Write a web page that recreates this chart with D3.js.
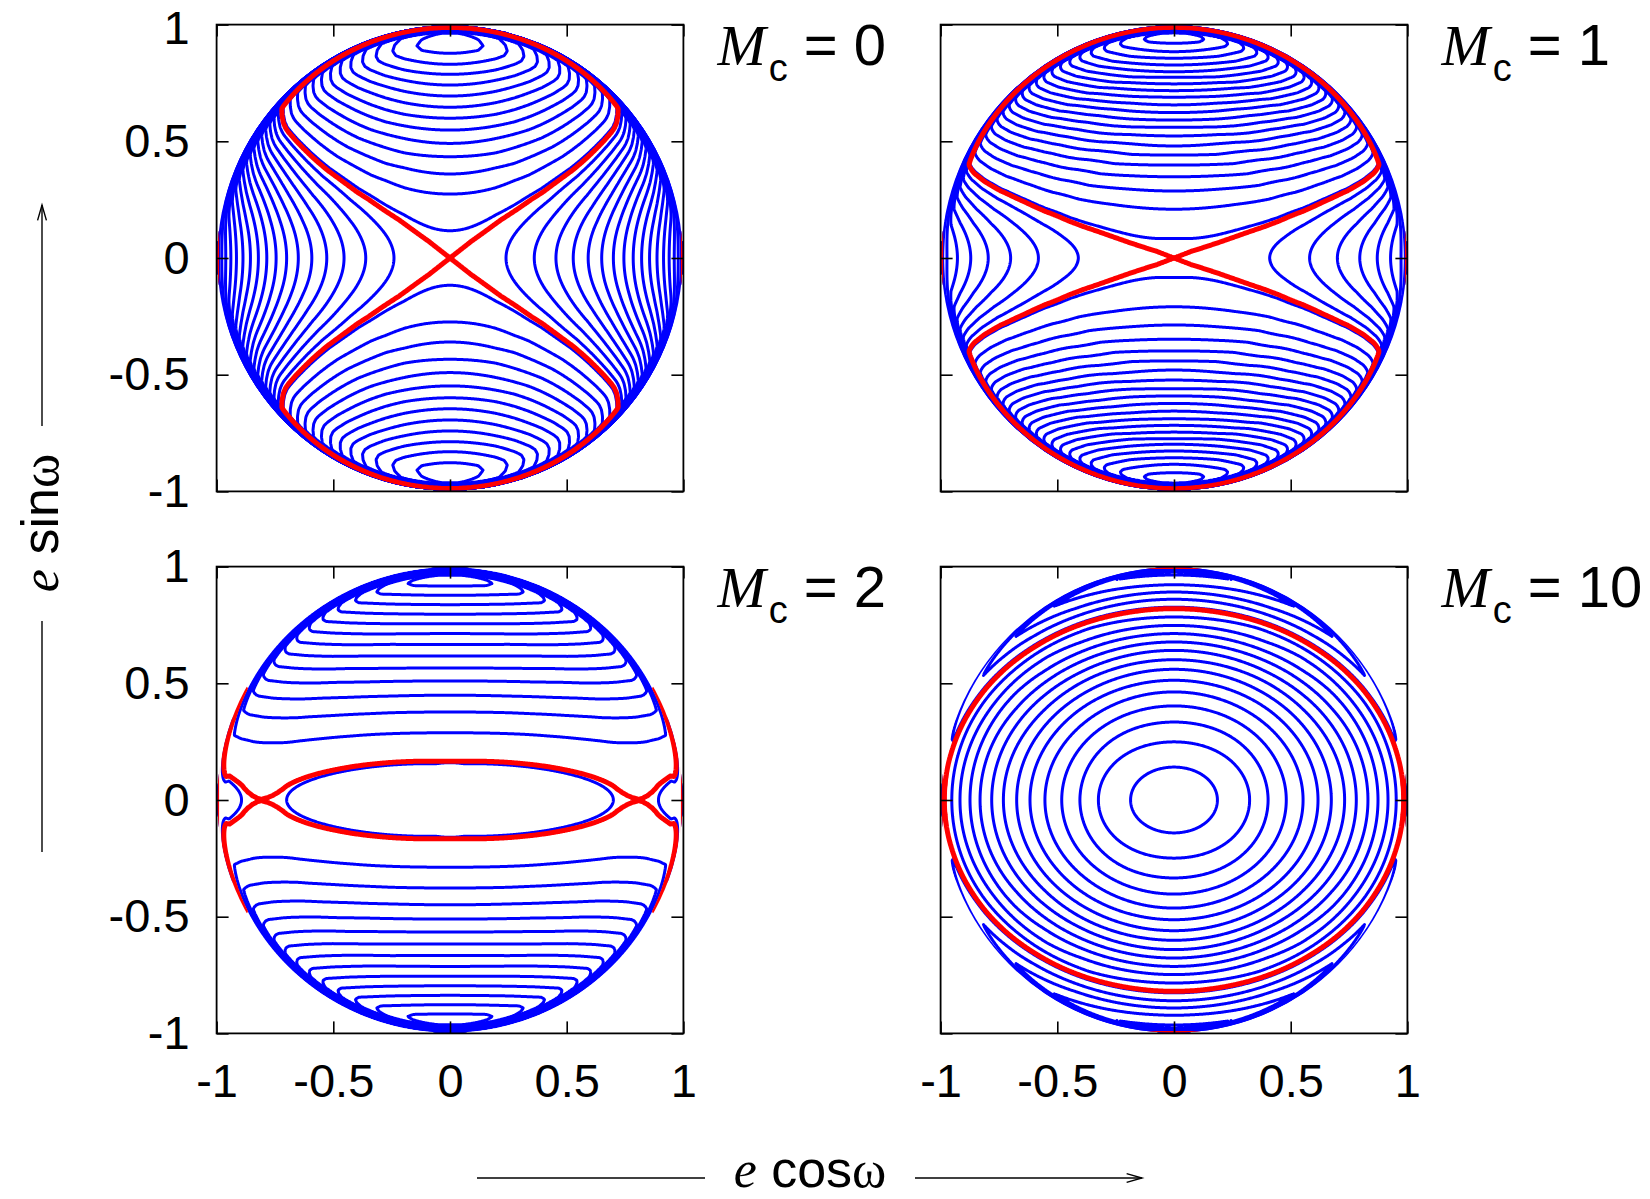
<!DOCTYPE html>
<html lang="en">
<head>
  <meta charset="UTF-8">
  <title>Phase portraits in the e cosω – e sinω plane</title>
  <script src="https://cdn.jsdelivr.net/npm/d3@7"></script>
  <style>
    body { margin: 0; background: #fff; }
    svg { display: block; }
    .frame { fill: none; stroke: #000; stroke-width: 1.8; }
    .blue { fill: none; stroke: #0000ff; stroke-width: 3; stroke-linejoin: round; }
    .red { fill: none; stroke: #ff0000; stroke-width: 5; stroke-linejoin: round; }
    .guide { stroke: #000; stroke-width: 1.4; fill: none; }
  </style>
</head>
<body>
<svg id="chart" width="1650" height="1199"></svg>
<script>
  // panel labels (M_c)
  const mcValues = ["0", "1", "2", "10"];
  const tickValues = [-1, -0.5, 0, 0.5, 1];
  const tickLabels = ["-1", "-0.5", "0", "0.5", "1"];

  // Each panel: where the contours cross the e cosω axis (radius) and the e sinω axis,
  // with the contour number at each crossing.
  // M_c = 0
  const mc0XRad = [0, 0.240, 0.361, 0.454, 0.528, 0.592, 0.650, 0.700, 0.745, 0.785, 0.821, 0.855, 0.887, 0.915, 0.939, 0.961, 0.978, 0.992, 0.998];
  const mc0XLev = [0, 0.8, 1.8, 2.8, 3.8, 4.8, 5.8, 6.8, 7.8, 8.8, 9.8, 10.8, 11.8, 12.8, 13.8, 14.8, 15.8, 16.8, 17.3];
  const mc0YRad = [0, 0.117, 0.274, 0.360, 0.434, 0.491, 0.548, 0.599, 0.646, 0.694, 0.741, 0.787, 0.830, 0.877, 0.898, 0.920, 0.943, 0.965, 0.988, 0.998];
  const mc0YLev = [0, -0.2, -1.2, -2.2, -3.2, -4.2, -5.2, -6.2, -7.2, -8.2, -9.2, -10.2, -11.2, -12.2, -12.57, -12.7, -12.56, -12.2, 0, 11.2];
  const mc0BlueX = [0.8, 1.8, 2.8, 3.8, 4.8, 5.8, 6.8, 7.8, 8.8, 9.8, 10.8, 11.8, 12.8, 13.8, 14.8, 15.8, 16.8];
  const mc0BlueY = [-0.2, -1.2, -2.2, -3.2, -4.2, -5.2, -6.2, -7.2, -8.2, -9.2, -10.2, -11.2, -12.2];

  // M_c = 1
  const mc1XRad = [0, 0.410, 0.581, 0.700, 0.796, 0.871, 0.928, 0.973, 0.991, 0.998];
  const mc1XLev = [0, 0.85, 1.85, 2.85, 3.85, 4.85, 5.85, 6.85, 7.85, 8.3];
  const mc1YRad = [0, 0.084, 0.209, 0.287, 0.348, 0.398, 0.441, 0.480, 0.523, 0.560, 0.591, 0.623, 0.656, 0.689, 0.717, 0.746, 0.774, 0.798, 0.827, 0.856, 0.884, 0.920, 0.932, 0.945, 0.956, 0.966, 0.988, 0.998];
  const mc1YLev = [0, -0.15, -1.15, -2.15, -3.15, -4.15, -5.15, -6.15, -7.15, -8.15, -9.15, -10.15, -11.15, -12.15, -13.15, -14.15, -15.15, -16.15, -17.15, -18.15, -19.15, -20.15, -20.48, -20.6, -20.51, -20.15, 0, 5.2];
  const mc1BlueX = [0.85, 1.85, 2.85, 3.85, 4.85, 5.85, 6.85, 7.85];
  const mc1BlueY = [-0.15, -1.15, -2.15, -3.15, -4.15, -5.15, -6.15, -7.15, -8.15, -9.15, -10.15, -11.15, -12.15, -13.15, -14.15, -15.15, -16.15, -17.15, -18.15, -19.15, -20.15];

  // M_c = 2
  const mc2XRad = [0, 0.700, 0.720, 0.740, 0.760, 0.780, 0.807, 0.827, 0.847, 0.867, 0.882, 0.893, 0.950, 0.975, 0.998];
  const mc2XLev = [0.45, 0, -0.0287, -0.0453, -0.0542, -0.0584, -0.06, -0.0591, -0.0547, -0.0421, -0.0226, 0, 0.10, 0.07, 0.07];
  const mc2YRad = [0, 0.160, 0.166, 0.288, 0.377, 0.449, 0.510, 0.566, 0.617, 0.666, 0.713, 0.755, 0.796, 0.837, 0.877, 0.917, 0.931, 0.945, 0.955, 0.965, 0.990, 0.998];
  const mc2YLev = [0.45, 0, -0.06, -1, -2, -3, -4, -5, -6, -7, -8, -9, -10, -11, -12, -13, -13.37, -13.5, -13.37, -13, -1, -0.5];
  const mc2BlueX = [0];
  const mc2BlueY = [-1, -2, -3, -4, -5, -6, -7, -8, -9, -10, -11, -12, -13];

  // M_c = 10
  const mc10XRad = [0, 0.186, 0.324, 0.403, 0.481, 0.553, 0.617, 0.674, 0.731, 0.781, 0.831, 0.874, 0.917, 0.952, 0.983, 0.998];
  const mc10XLev = [0.5, 1, 2, 3, 4, 5, 6, 7, 8, 9, 10, 11, 12, 13, 13.8, 13.9];
  const mc10YRad = [0, 0.141, 0.249, 0.334, 0.403, 0.463, 0.513, 0.560, 0.601, 0.641, 0.677, 0.713, 0.748, 0.784, 0.820, 0.826, 0.860, 0.891, 0.922, 0.964, 0.976, 0.998];
  const mc10YLev = [0.5, 1, 2, 3, 4, 5, 6, 7, 8, 9, 10, 11, 12, 13, 13.8, 14, 15, 16, 17, 18, 18.3, 13.9];
  const mc10BlueX = [1, 2, 3, 4, 5, 6, 7, 8, 9, 10, 11, 12, 13];
  const mc10BlueY = [14, 15, 16, 17, 18];

  // separatrix level (red) and the weight of the e sinω profile, per panel
  const sepLevels = [0, 0, -0.06, 13.8];
  const yGains = [1.55, 1.6, 1, 1];

  const half = 233.4;
  const edge = 0.997;
  const n = 560;

  const panels = [
    { cx: 450, cy: 258, xr: mc0XRad, xl: mc0XLev, yr: mc0YRad, yl: mc0YLev, bx: mc0BlueX, by: mc0BlueY, left: true, bottom: false },
    { cx: 1174, cy: 258, xr: mc1XRad, xl: mc1XLev, yr: mc1YRad, yl: mc1YLev, bx: mc1BlueX, by: mc1BlueY, left: false, bottom: false },
    { cx: 450, cy: 800, xr: mc2XRad, xl: mc2XLev, yr: mc2YRad, yl: mc2YLev, bx: mc2BlueX, by: mc2BlueY, left: true, bottom: true },
    { cx: 1174, cy: 800, xr: mc10XRad, xl: mc10XLev, yr: mc10YRad, yl: mc10YLev, bx: mc10BlueX, by: mc10BlueY, left: false, bottom: true }
  ];

  // piecewise linear profile in e^2
  function profile(s2, lev, s) {
    if (s <= s2[0]) return lev[0];
    for (let i = 1; i < s2.length; i++) {
      if (s <= s2[i]) {
        const t = (s - s2[i - 1]) / (s2[i] - s2[i - 1]);
        return lev[i - 1] + t * (lev[i] - lev[i - 1]);
      }
    }
    return lev[lev.length - 1];
  }

  const svg = d3.select('#chart');
  const sans = "'Liberation Sans', Arial, sans-serif";
  const serif = "'Liberation Serif', 'Times New Roman', serif";

  panels.forEach((p, k) => {
    const x = d3.scaleLinear().domain([-1, 1]).range([p.cx - half, p.cx + half]);
    const y = d3.scaleLinear().domain([-1, 1]).range([p.cy + half, p.cy - half]);
    const gain = yGains[k];
    const sx = p.xr.map(r => r * r);
    const sy = p.yr.map(r => r * r);

    // sample the field on a grid: f = cos²ω·fx(e) + sin²ω·fy(e)
    const values = new Float64Array(n * n);
    for (let j = 0; j < n; j++) {
      const v = 1 - (j + 0.5) * 2 / n;
      for (let i = 0; i < n; i++) {
        const u = -1 + (i + 0.5) * 2 / n;
        const s = u * u + v * v;
        const w = s > 0 ? u * u / s : 0.5;
        values[j * n + i] = w * profile(sx, p.xl, s) + (1 - w) * gain * profile(sy, p.yl, s);
      }
    }

    const toPx = d3.geoTransform({
      point: function(gx, gy) {
        this.stream.point(x(-1 + gx * 2 / n), y(1 - gy * 2 / n));
      }
    });
    const path = d3.geoPath(toPx);

    svg.append('clipPath').attr('id', 'clip' + k)
      .append('circle').attr('cx', x(0)).attr('cy', y(0)).attr('r', x(edge) - x(0));

    const g = svg.append('g').attr('clip-path', `url(#clip${k})`);

    const blueLevels = p.bx.concat(p.by.map(d => d * gain)).sort(d3.ascending);
    const blue = d3.contours().size([n, n]).thresholds(blueLevels)(values);
    g.selectAll('path.blue').data(blue).join('path')
      .attr('class', 'blue')
      .attr('d', path);

    const red = d3.contours().size([n, n]).thresholds([sepLevels[k]])(values);
    g.selectAll('path.red').data(red).join('path')
      .attr('class', 'red')
      .attr('d', path);

    // frame and inward ticks on all sides
    svg.append('rect').attr('class', 'frame')
      .attr('x', x(-1)).attr('y', y(1))
      .attr('width', x(1) - x(-1)).attr('height', y(-1) - y(1));

    const axes = [
      { ax: d3.axisBottom(x), t: `translate(0,${y(-1)})`, lab: p.bottom, pad: 30 },
      { ax: d3.axisTop(x), t: `translate(0,${y(1)})`, lab: false, pad: 0 },
      { ax: d3.axisLeft(y), t: `translate(${x(-1)},0)`, lab: p.left, pad: 27 },
      { ax: d3.axisRight(y), t: `translate(${x(1)},0)`, lab: false, pad: 0 }
    ];
    axes.forEach((a, ai) => {
      a.ax.tickValues(tickValues).tickSizeInner(-12).tickSizeOuter(0).tickPadding(a.pad)
        .tickFormat((d, i) => a.lab ? tickLabels[i] : '');
      const ga = svg.append('g').attr('transform', a.t).call(a.ax);
      ga.select('.domain').remove();
      ga.selectAll('line').attr('stroke', '#000').attr('stroke-width', 1.6);
      ga.selectAll('text').attr('font-family', sans).attr('font-size', 47).attr('fill', '#000');
      // keep the topmost label of the page inside the picture
      if (k === 0 && ai === 2) ga.selectAll('text').filter(d => d === 1).attr('dy', '0.40em');
    });

    // M_c label
    const t = svg.append('text')
      .attr('x', x(1) + 34).attr('y', y(1) + 40)
      .attr('font-size', 58).attr('fill', '#000');
    t.append('tspan').attr('font-family', serif).attr('font-style', 'italic').text('M');
    t.append('tspan').attr('font-family', sans)
      .attr('font-size', 38).attr('dx', 3).attr('dy', 16).text('c');
    t.append('tspan').attr('font-family', sans)
      .attr('dy', -16).text('\u00a0=\u00a0' + mcValues[k]);
  });

  // axis titles with arrows
  function arrowHead(x0, y0, dx, dy) {
    const len = 16, a = 0.28;
    const ang = Math.atan2(dy, dx);
    const pts = [[x0 - len * Math.cos(ang - a), y0 - len * Math.sin(ang - a)], [x0, y0],
                 [x0 - len * Math.cos(ang + a), y0 - len * Math.sin(ang + a)]];
    svg.append('path').attr('class', 'guide').attr('d', d3.line()(pts));
  }

  svg.append('line').attr('class', 'guide').attr('x1', 477).attr('y1', 1178).attr('x2', 705).attr('y2', 1178);
  svg.append('line').attr('class', 'guide').attr('x1', 915).attr('y1', 1178).attr('x2', 1142).attr('y2', 1178);
  arrowHead(1142, 1178, 1, 0);
  const xt = svg.append('text').attr('x', 810).attr('y', 1187).attr('text-anchor', 'middle')
    .attr('font-size', 52).attr('fill', '#000');
  xt.append('tspan').attr('font-family', serif).attr('font-style', 'italic').text('e');
  xt.append('tspan').attr('font-family', sans).text('\u00a0cos');
  xt.append('tspan').attr('font-family', serif).text('ω');

  svg.append('line').attr('class', 'guide').attr('x1', 42).attr('y1', 852).attr('x2', 42).attr('y2', 621);
  svg.append('line').attr('class', 'guide').attr('x1', 42).attr('y1', 426).attr('x2', 42).attr('y2', 205);
  arrowHead(42, 205, 0, -1);
  const yt = svg.append('text').attr('transform', 'translate(58,523) rotate(-90)')
    .attr('text-anchor', 'middle').attr('font-size', 52).attr('fill', '#000');
  yt.append('tspan').attr('font-family', serif).attr('font-style', 'italic').text('e');
  yt.append('tspan').attr('font-family', sans).text('\u00a0sin');
  yt.append('tspan').attr('font-family', serif).text('ω');
</script>
</body>
</html>
